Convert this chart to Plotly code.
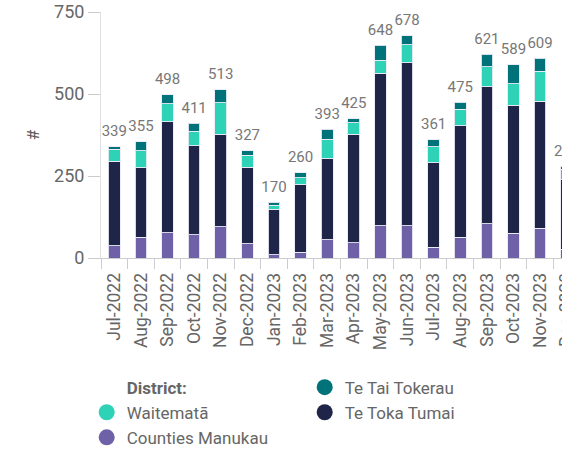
import plotly.graph_objects as go

months = ["Jul-2022", "Aug-2022", "Sep-2022", "Oct-2022", "Nov-2022", "Dec-2022",
          "Jan-2023", "Feb-2023", "Mar-2023", "Apr-2023", "May-2023", "Jun-2023",
          "Jul-2023", "Aug-2023", "Sep-2023", "Oct-2023", "Nov-2023", "Dec-2023"]

counties_manukau = [38, 63, 77, 71, 96, 43, 10, 18, 55, 47, 99, 99, 33, 63, 104, 76, 91, 27]
te_toka_tumai = [257, 212, 338, 271, 281, 233, 138, 205, 249, 330, 464, 496, 258, 340, 418, 390, 387, 211]
waitemata = [36, 52, 55, 45, 96, 38, 13, 22, 58, 36, 40, 55, 48, 50, 61, 65, 91, 32]
te_tai_tokerau = [8, 28, 28, 24, 40, 13, 9, 15, 31, 12, 45, 28, 22, 22, 38, 58, 40, 10]

totals = [a + b + c + d for a, b, c, d in zip(counties_manukau, te_toka_tumai, waitemata, te_tai_tokerau)]

series = [
    ("Counties Manukau", counties_manukau, "#6F61A8"),
    ("Te Toka Tumai", te_toka_tumai, "#1E2549"),
    ("Waitematā", waitemata, "#2ED3B7"),
    ("Te Tai Tokerau", te_tai_tokerau, "#00727A"),
]

FONT = "Roboto"
fig = go.Figure()

for name, vals, col in series:
    fig.add_trace(go.Bar(
        x=months, y=vals, name=name, marker_color=col,
        marker_line=dict(color="rgba(235,235,245,0.9)", width=1),
        showlegend=False,
    ))

# total labels above stacks
fig.add_trace(go.Scatter(
    x=months, y=totals, mode="markers+text", text=[str(t) for t in totals],
    marker=dict(size=9, color="rgba(0,0,0,0)"),
    textposition="top center", textfont=dict(family=FONT, size=15, color="#777777"),
    showlegend=False, hoverinfo="skip", cliponaxis=False,
))

# legend entries (title as a blank entry, then row-major order)
legend_items = [
    ("<b>District:</b>", "rgba(0,0,0,0)"),
    ("Te Tai Tokerau", "#00727A"),
    ("Waitematā", "#2ED3B7"),
    ("Te Toka Tumai", "#1E2549"),
    ("Counties Manukau", "#6F61A8"),
]
for name, col in legend_items:
    fig.add_trace(go.Scatter(
        x=[None], y=[None], mode="markers", name=name,
        marker=dict(color=col, size=16, symbol="circle"),
        showlegend=True,
    ))

# The original chart is wider than the visible window: its last month is cut off
# at the right edge, so the figure is drawn wider and the page clips it.
FIG_W = 580

fig.update_layout(
    width=FIG_W, height=455,
    barmode="stack", bargap=0.56,
    plot_bgcolor="white", paper_bgcolor="white",
    margin=dict(l=101, r=0, t=12, b=197, autoexpand=False),
    font=dict(family=FONT, color="#666666", size=16),
    xaxis=dict(
        type="category", range=[-0.5, 17.5], automargin=False,
        tickangle=-90, tickson="boundaries", ticks="outside", ticklen=10,
        tickcolor="#cccccc", showline=True, linecolor="#cccccc",
        ticklabelstandoff=7,
        tickfont=dict(family=FONT, size=17.5, color="#666666"),
        showgrid=False,
    ),
    yaxis=dict(
        range=[0, 750], tickvals=[0, 250, 500, 750], ticks="outside", ticklen=12,
        tickcolor="#cccccc", showline=True, linecolor="#e0e0e0", showgrid=False,
        zeroline=False, automargin=False, ticklabeloverflow="allow",
        tickfont=dict(family=FONT, size=18, color="#666666"),
        title=dict(text="#", font=dict(family=FONT, size=17, color="#555555"), standoff=10),
    ),
    legend=dict(
        orientation="h", xref="container", yref="container",
        x=86.7 / FIG_W, xanchor="left", y=0.1877, yanchor="top",
        entrywidth=173, entrywidthmode="pixels",
        font=dict(family=FONT, size=17, color="#666666"),
        itemsizing="trace", traceorder="normal",
    ),
)

fig.write_html(
    "out.html",
    config={"displayModeBar": False},
    post_script="document.body.style.margin='0px';document.body.style.overflow='hidden';",
)
